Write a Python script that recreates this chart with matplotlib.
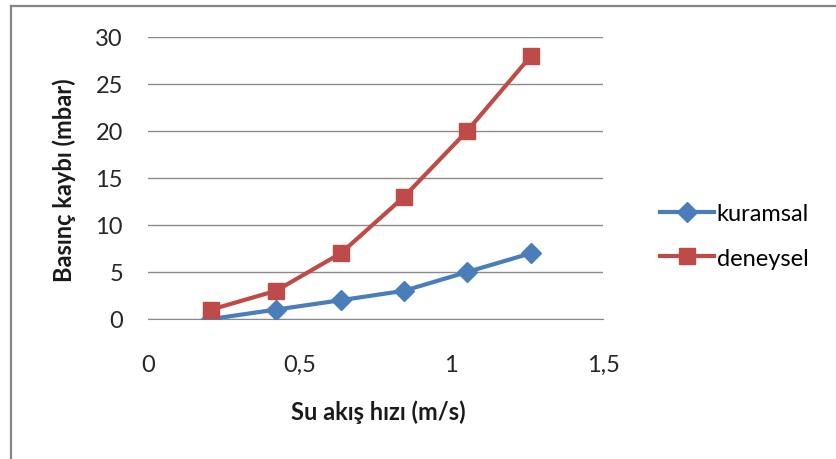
import matplotlib
matplotlib.use("Agg")
import matplotlib.pyplot as plt
from matplotlib.lines import Line2D
from matplotlib.ticker import FuncFormatter

plt.rcParams['font.family'] = ['Lato', 'DejaVu Sans']

velocity = [0.208, 0.422, 0.636, 0.844, 1.052, 1.263]
kuramsal = [0, 1, 2, 3, 5, 7]
deneysel = [1, 3, 7, 13, 20, 28]
series_names = ["kuramsal", "deneysel"]
x_label = "Su akış hızı (m/s)"
y_label = "Basınç kaybı (mbar)"

W, H = 836, 460
fig = plt.figure(figsize=(W / 100, H / 100), dpi=100)
# outer chart frame (only top and left edges visible)
fig.lines.append(Line2D([10.5 / W, 10.5 / W], [0, 1 - 6.5 / H], transform=fig.transFigure,
                        color="#858585", linewidth=1.6))
fig.lines.append(Line2D([10.5 / W, 1], [1 - 6.5 / H, 1 - 6.5 / H], transform=fig.transFigure,
                        color="#858585", linewidth=1.6))

ax = fig.add_axes([148 / W, 1 - 320 / H, 455 / W, 282 / H])

ax.plot(velocity, kuramsal, color="#4a7ebb", linewidth=3, marker="D", markersize=10,
        label=series_names[0], zorder=3)
ax.plot(velocity, deneysel, color="#be4b48", linewidth=3, marker="s", markersize=12,
        label=series_names[1], zorder=3)

ax.set_xlim(0, 1.5)
ax.set_ylim(0, 30)
ax.set_xticks([0, 0.5, 1, 1.5])
ax.set_yticks(range(0, 31, 5))
ax.xaxis.set_major_formatter(FuncFormatter(lambda v, p: f"{v:g}".replace(".", ",")))
ax.grid(axis="y", color="#8a8a8a", linewidth=1)
ax.set_axisbelow(True)
for s in ["top", "right", "left"]:
    ax.spines[s].set_visible(False)
ax.spines["bottom"].set_color("#8a8a8a")
ax.tick_params(length=0, labelsize=17, colors="#262626")
ax.tick_params(axis="x", pad=25)
ax.tick_params(axis="y", pad=18)

fig.text(378 / W, 1 - 412 / H, x_label, fontsize=17, fontweight="bold",
         ha="center", va="center", color="#1a1a1a")
fig.text(64 / W, 1 - 180 / H, y_label, fontsize=17, fontweight="bold", rotation=90,
         ha="center", va="center", color="#1a1a1a")

ax.legend(loc="center left", bbox_to_anchor=(1.125, 0.295), frameon=False, fontsize=17,
          handlelength=2.3, handletextpad=0.1, labelspacing=1.0,
          borderpad=0, borderaxespad=0)

fig.savefig("out.png", dpi=100)
